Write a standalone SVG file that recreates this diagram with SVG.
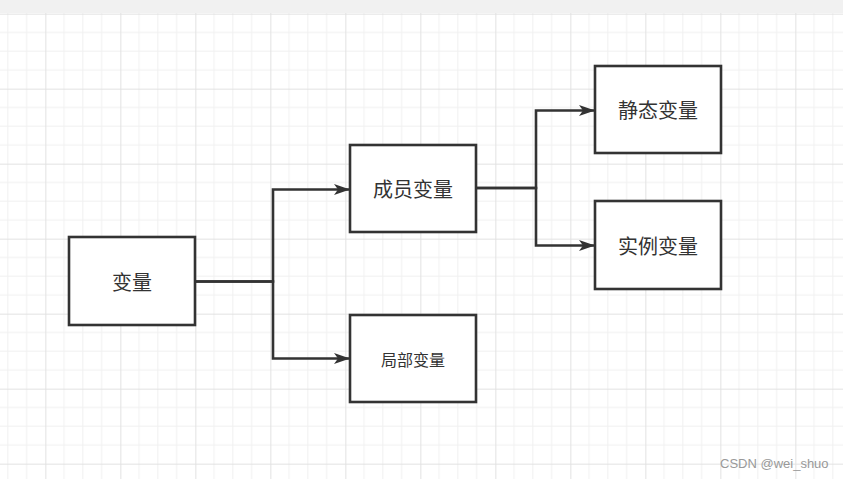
<svg xmlns="http://www.w3.org/2000/svg" width="843" height="479" viewBox="0 0 843 479">
  <defs>
    <pattern id="grid" patternUnits="userSpaceOnUse" x="45.33" y="13.67" width="75" height="75">
      <path d="M18.75 0V75M37.5 0V75M56.25 0V75M0 18.75H75M0 37.5H75M0 56.25H75" stroke="#f0f0f0" stroke-width="1" fill="none"/>
      <path d="M0.5 0V75M0 0.5H75" stroke="#e2e2e2" stroke-width="1" fill="none"/>
    </pattern>
    <marker id="arrow" markerUnits="userSpaceOnUse" markerWidth="18" markerHeight="14" refX="16" refY="6" orient="auto" viewBox="0 0 18 12">
      <path d="M16 6 L0 0.5 L4 6 L0 11.5 Z" fill="#333"/>
    </marker>
    <style>
      .box { fill: #ffffff; stroke: #333333; stroke-width: 2.6; }
      .lbl { font-family: "Noto Sans CJK SC", "Noto Sans", sans-serif; font-size: 20px; fill: #333333; text-anchor: middle; dominant-baseline: central; }
      .small { font-size: 16px; }
      .edge { fill: none; stroke: #333333; stroke-width: 2.6; marker-end: url(#arrow); }
    </style>
  </defs>
  <rect x="0" y="0" width="843" height="479" fill="#ffffff"/>
  <rect x="0" y="13" width="843" height="466" fill="url(#grid)"/>
  <rect x="0" y="0" width="843" height="13" fill="#f1f1f1"/>

  <g id="connectors">
    <path class="edge" d="M195 281.5 H273 V189.5 H350"/>
    <path class="edge" d="M195 281.5 H273 V358.5 H350"/>
    <path class="edge" d="M476 188 H536 V110.5 H595"/>
    <path class="edge" d="M476 188 H536 V245.5 H595"/>
  </g>

  <g id="node-bianliang">
    <rect class="box" x="69" y="237" width="126" height="88"/>
    <text class="lbl" x="132" y="281">变量</text>
  </g>
  <g id="node-chengyuan">
    <rect class="box" x="350" y="145" width="126" height="87"/>
    <text class="lbl" x="413" y="188.5">成员变量</text>
  </g>
  <g id="node-jubu">
    <rect class="box" x="350" y="315" width="126" height="87"/>
    <text class="lbl small" x="413" y="358.5">局部变量</text>
  </g>
  <g id="node-jingtai">
    <rect class="box" x="595" y="66" width="126" height="87"/>
    <text class="lbl" x="658" y="109.5">静态变量</text>
  </g>
  <g id="node-shili">
    <rect class="box" x="595" y="201" width="126" height="88"/>
    <text class="lbl" x="658" y="245">实例变量</text>
  </g>

  <text x="720" y="468" font-family="Liberation Sans, Arial, sans-serif" font-size="13" fill="#999999">CSDN @wei_shuo</text>
</svg>
